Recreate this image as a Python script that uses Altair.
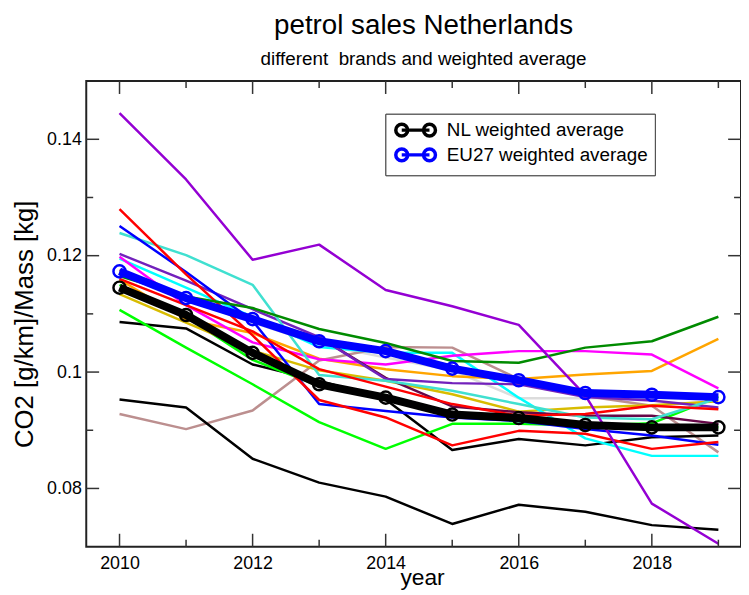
import altair as alt
import pandas as pd

# ---------------- data ----------------
years = [2010, 2011, 2012, 2013, 2014, 2015, 2016, 2017, 2018, 2019]

violet    = [0.1445, 0.1331, 0.1193, 0.1219, 0.1141, 0.1113, 0.1081, 0.0960, 0.0774, 0.0705]
red_a     = [0.1280, 0.1168, 0.1063, 0.0952, 0.0922, 0.0874, 0.0899, 0.0894, 0.0868, 0.0880]
red_b     = [0.1160, 0.1115, 0.1070, 0.1005, 0.0975, 0.0945, 0.0925, 0.0928, 0.0942, 0.0936]
blue      = [0.1251, 0.1172, 0.1088, 0.0945, 0.0933, 0.0922, 0.0916, 0.0902, 0.0891, 0.0875]
turquoise = [0.1239, 0.1201, 0.1150, 0.0995, 0.0985, 0.0968, 0.0945, 0.0922, 0.0919, 0.0955]
indigo    = [0.1203, 0.1157, 0.1108, 0.1060, 0.0988, 0.0981, 0.0979, 0.0957, 0.0951, 0.0939]
magenta   = [0.1198, 0.1115, 0.1051, 0.1022, 0.1013, 0.1028, 0.1036, 0.1036, 0.1030, 0.0972]
cyan      = [0.1195, 0.1145, 0.1095, 0.1043, 0.1033, 0.1033, 0.0956, 0.0886, 0.0856, 0.0856]
orange    = [0.1159, 0.1090, 0.1067, 0.1023, 0.1005, 0.0993, 0.0988, 0.0996, 0.1002, 0.1057]
gold      = [0.1134, 0.1085, 0.1037, 0.1003, 0.0985, 0.0962, 0.0932, 0.0939, 0.0943, 0.0950]
lime_a    = [0.1107, 0.1042, 0.0979, 0.0914, 0.0868, 0.0911, 0.0911, 0.0908, 0.0912, 0.0958]
lime_b    = [0.1150, 0.1095, 0.1021, 0.0976, 0.0960, 0.0930, 0.0922, 0.0912, 0.0906, 0.0905]
black_a   = [0.1086, 0.1075, 0.1013, 0.0985, 0.0953, 0.0866, 0.0885, 0.0874, 0.0888, 0.0891]
black_b   = [0.0953, 0.0939, 0.0851, 0.0810, 0.0786, 0.0739, 0.0772, 0.0760, 0.0737, 0.0729]
rosy      = [0.0928, 0.0902, 0.0934, 0.1020, 0.1043, 0.1042, 0.0988, 0.0959, 0.0942, 0.0862]
darkgreen = [0.1165, 0.1130, 0.1110, 0.1074, 0.1050, 0.1019, 0.1016, 0.1042, 0.1053, 0.1095]
maroon    = [0.1175, 0.1128, 0.1088, 0.1060, 0.0990, 0.0941, 0.0931, 0.0925, 0.0925, 0.0911]
grey      = [0.1168, 0.1125, 0.1085, 0.1048, 0.1025, 0.1003, 0.0955, 0.0955, 0.0955, 0.0956]

nl_avg = [0.1145, 0.1098, 0.1033, 0.0979, 0.0956, 0.0927, 0.0921, 0.0909, 0.0905, 0.0905]
eu_avg = [0.1173, 0.1127, 0.1091, 0.1053, 0.1036, 0.1006, 0.0986, 0.0964, 0.0961, 0.0957]

brand_names = ["grey", "rosy", "black_b", "black_a", "lime_a", "lime_b", "gold", "orange",
               "cyan", "magenta", "maroon", "indigo", "turquoise", "blue", "red_b",
               "red_a", "darkgreen", "violet"]
brand_values = [grey, rosy, black_b, black_a, lime_a, lime_b, gold, orange,
                cyan, magenta, maroon, indigo, turquoise, blue, red_b,
                red_a, darkgreen, violet]
brand_colors = ["#DCDCDC", "#BC8F8F", "#000000", "#000000", "#00FF00", "#00FF00", "#D8BC00",
                "#FFA500", "#00FFFF", "#FF00FF", "#670748", "#7221BC", "#40E0D0", "#0000FF",
                "#FF0000", "#FF0000", "#008B00", "#9400D3"]

avg_names = ["NL weighted average", "EU27 weighted average"]
avg_values = [nl_avg, eu_avg]
avg_colors = ["#000000", "#0000FF"]

x_major = [2010, 2012, 2014, 2016, 2018]
x_minor = [2011, 2013, 2015, 2017, 2019]
y_major = [0.08, 0.10, 0.12, 0.14]
y_minor = [0.09, 0.11, 0.13]

# ---------------- tables ----------------
rows = []
for i, (n, vals, c) in enumerate(zip(brand_names, brand_values, brand_colors)):
    for y, v in zip(years, vals):
        rows.append({"year": y, "value": v, "brand": f"{i:02d}_{n}", "col": c})
df_thin = pd.DataFrame(rows)

rows = []
for n, vals in zip(avg_names, avg_values):
    for y, v in zip(years, vals):
        rows.append({"year": y, "value": v, "series": n})
df_avg = pd.DataFrame(rows)

W, H = 661, 470
FONT = "Liberation Sans"
xscale = alt.Scale(domain=[2009.5, 2019.34], nice=False, zero=False)
yscale = alt.Scale(domain=[0.07, 0.15], nice=False, zero=False)

x_axis = alt.Axis(values=x_major, format="d", ticks=False, domain=False, grid=False,
                  labelFontSize=18, labelFont=FONT, labelColor="black", labelPadding=8,
                  title="year", titleFontSize=23, titleFont=FONT, titleFontWeight="normal",
                  titleColor="black", titleX=339, titleY=38, titleBaseline="alphabetic",
                  labelFlush=False)
y_axis = alt.Axis(values=y_major, format="~g", ticks=False, domain=False, grid=False,
                  labelFontSize=18, labelFont=FONT, labelColor="black", labelPadding=5,
                  title="CO2 [g/km]/Mass [kg]", titleFontSize=26, titleFont=FONT,
                  titleFontWeight="normal", titleColor="black", titlePadding=9,
                  titleY=245)

X = alt.X("year:Q", scale=xscale, axis=x_axis)
Y = alt.Y("value:Q", scale=yscale, axis=y_axis)

thin = alt.Chart(df_thin).mark_line(strokeWidth=2.5, clip=True, strokeJoin="round").encode(
    x=X, y=Y,
    color=alt.Color("col:N", scale=None),
    detail="brand:N",
    order="year:Q",
)

legend_path = ("M0,0 L4.67,0 "
               "M-1,0 A1,1 0 1,0 1,0 A1,1 0 1,0 -1,0 "
               "M3.67,0 A1,1 0 1,0 5.67,0 A1,1 0 1,0 3.67,0")
legend = alt.Legend(title=None, orient="none", legendX=302, legendY=33,
                    symbolType=legend_path, symbolSize=144, symbolStrokeWidth=3.5,
                    symbolFillColor="transparent",
                    labelFontSize=19, labelFont=FONT, labelColor="black", labelOffset=36,
                    padding=7, rowPadding=-2, strokeColor="#444", fillColor="white",
                    labelLimit=400)
cscale = alt.Scale(domain=avg_names, range=avg_colors)

avg_line = alt.Chart(df_avg).mark_line(strokeWidth=8, strokeJoin="round").encode(
    x=X, y=Y, color=alt.Color("series:N", scale=cscale, legend=legend, sort=avg_names),
    order="year:Q",
)
avg_pts = alt.Chart(df_avg).mark_point(shape="circle", size=150, filled=False,
                                       strokeWidth=2.5, opacity=1).encode(
    x=alt.X("year:Q", scale=xscale), y=alt.Y("value:Q", scale=yscale),
    color=alt.Color("series:N", scale=cscale, legend=legend, sort=avg_names),
)

# ---------------- inward ticks ----------------
tick_col = "#333333"
xmaj = pd.DataFrame({"year": x_major})
xmin = pd.DataFrame({"year": x_minor})
ymaj = pd.DataFrame({"value": y_major})
ymin = pd.DataFrame({"value": y_minor})

def xticks(df, length):
    base = alt.Chart(df).mark_rule(color=tick_col, strokeWidth=1.5)
    xe = alt.X("year:Q", scale=xscale)
    return [
        base.encode(x=xe, y=alt.value(H), y2=alt.value(H - length)),
        base.encode(x=xe, y=alt.value(0), y2=alt.value(length)),
    ]

def yticks(df, length):
    base = alt.Chart(df).mark_rule(color=tick_col, strokeWidth=1.5)
    ye = alt.Y("value:Q", scale=yscale)
    return [
        base.encode(y=ye, x=alt.value(0), x2=alt.value(length)),
        base.encode(y=ye, x=alt.value(W), x2=alt.value(W - length)),
    ]

ticks = xticks(xmaj, 13) + xticks(xmin, 7) + yticks(ymaj, 13) + yticks(ymin, 7)

chart = alt.layer(thin, avg_line, avg_pts, *ticks).resolve_scale(
    color="independent"
).properties(
    width=W, height=H,
    padding={"left": 79, "top": 71, "right": 0, "bottom": 44},
    autosize=alt.AutoSizeParams(type="none"),
    title=alt.TitleParams(
        text="petrol sales Netherlands",
        subtitle="different\u00a0 brands and weighted average",
        fontSize=28, subtitleFontSize=19, font=FONT, subtitleFont=FONT,
        fontWeight="normal", color="black", subtitleColor="black",
        anchor="middle", offset=12, subtitlePadding=10, dx=10,
    ),
).configure(background="white").configure_view(
    stroke="#222222", strokeWidth=2
)

chart.save("out.html", embed_options={"renderer": "svg", "actions": False})
